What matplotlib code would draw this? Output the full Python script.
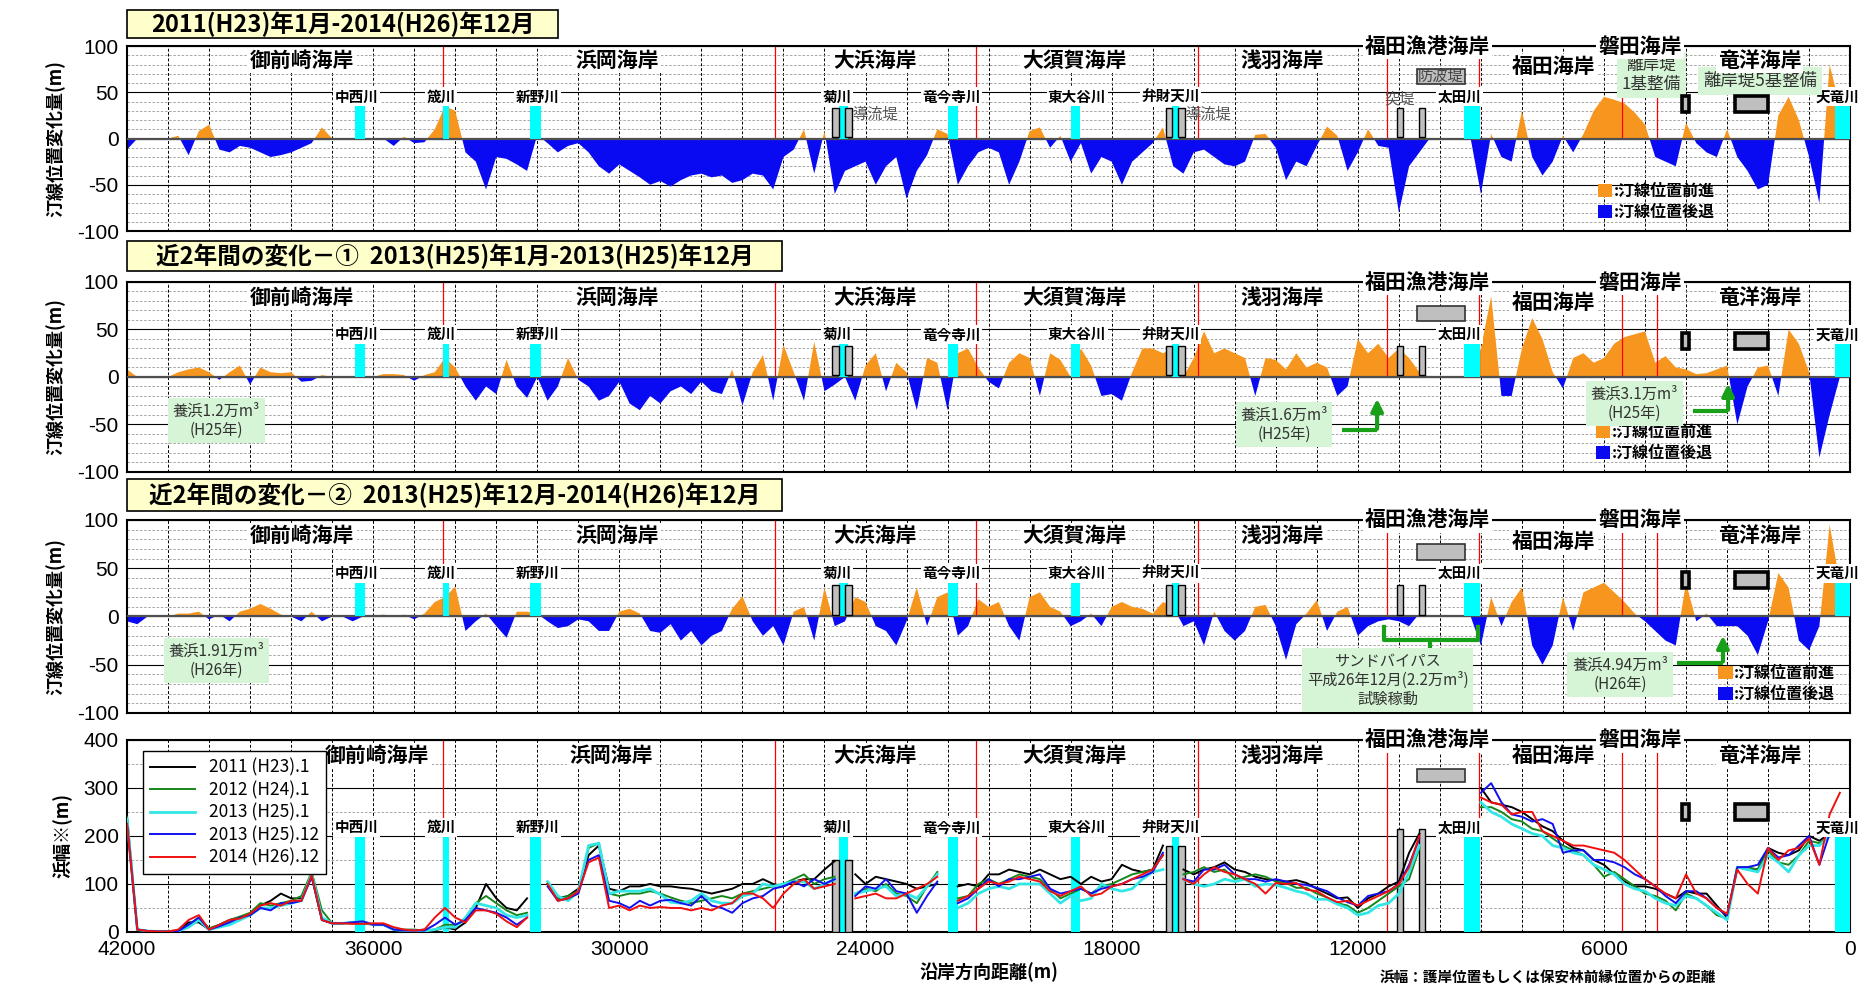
import numpy as np
import matplotlib
matplotlib.use("Agg")
import matplotlib.pyplot as plt
from matplotlib.patches import Rectangle, Patch
from matplotlib.ticker import MultipleLocator

plt.rcParams['font.family'] = ['Noto Sans CJK JP', 'DejaVu Sans']
plt.rcParams['axes.unicode_minus'] = False

nan = np.nan

# ── Data ─────────────────────────────────────────────────────────────────────
# alongshore distance (m), every 250 m from 42000 down to 0
DIST = np.arange(42000, -1, -250)

# shoreline change (m), 2011.1 -> 2014.12
CHG_ALL = [-12,
           0, 0, 0, 0, 3, -18, 8, 15,                  # 41750-40000
           -12, -15, -8, -10, -15, -20, -18, -15,      # 39750-38000
           -10, -5, 12, 0, 0, 0, 0, 0,                 # 37750-36000
           0, -8, 2, -5, -4, 10, 35, 30,               # 35750-34000
           -15, -25, -55, -20, -22, -28, -35, 4,       # 33750-32000
           -5, -15, -8, -5, -15, -30, -38, -28,        # 31750-30000
           -35, -42, -50, -46, -52, -45, -40, -38,     # 29750-28000
           -42, -40, -48, -45, -38, -40, -55, -20,     # 27750-26000
           -12, 10, -38, 8, -60, -35, -30, -25,        # 25750-24000
           -50, -30, -20, -65, -35, -18, 10, 5,        # 23750-22000
           -50, -30, -15, -10, -15, -50, -25, 8,       # 21750-20000
           12, -10, 3, -25, -5, -38, -20, -25,         # 19750-18000
           -50, -25, -15, -5, 12, -30, -38, -15,       # 17750-16000
           -12, -20, -28, -30, -25, 4, 5, -10,         # 15750-14000
           -45, -25, -30, -8, 13, 3, -35, -15,         # 13750-12000
           10, -8, -10, -80, -30, -15, 0, 0,           # 11750-10000
           0, 0, 0, -60, 5, -20, -25, 30,              # 9750-8000
           -20, -40, -25, 3, -15, 5, 30, 45,           # 7750-6000
           42, 38, 28, 15, -20, -25, -30, 17,          # 5750-4000
           -5, -15, -20, 10, -20, -35, -55, -50,       # 3750-2000
           25, 45, 20, -20, -70, 80, 35, 0]            # 1750-0

# shoreline change (m), 2013.1 -> 2013.12
CHG_H25 = [8,
           0, 0, 0, 0, 5, 8, 10, 5,
           -3, 5, 12, -8, 10, 5, 4, 5,
           -5, -4, 2, 0, 0, 0, 0, 0,
           3, 3, 2, -4, 2, 5, 20, 10,
           -10, -25, -10, -18, 18, -10, -22, 0,
           -25, -10, 20, -3, -10, -25, -20, -5,
           -28, -35, -20, -28, -15, -10, -18, -5,
           -15, -18, 8, -30, 5, 23, -25, 34,
           5, -25, 37, -15, -8, 0, -25, 12,
           25, -15, 15, 5, -35, 20, 15, -35,
           25, 30, 10, -5, -12, 15, 25, 20,
           -20, 25, 18, 0, 30, 12, -20, -18,
           -25, 5, 30, 30, 25, 30, 0, 20,
           48, 25, 30, 25, 20, -20, 20, 18,
           8, 25, 10, 15, 10, -20, -10, 40,
           25, 35, 20, 30, 20, 5, 0, 0,
           0, 0, 0, 30, 85, -20, -20, 30,
           62, 40, 5, -12, 20, 25, 15, 20,
           35, 42, 45, 48, 15, 22, 10, 8,
           3, 4, 8, 12, -50, -10, 10, 12,
           -20, 50, 35, 5, -85, -40, 0, 0]

# shoreline change (m), 2013.12 -> 2014.12
CHG_H26 = [-5,
           -8, 0, 0, 0, 3, 3, 5, -3,
           2, -5, 5, 8, 13, 8, 2, 0,
           -5, 5, -5, 0, 0, -5, 0, 0,
           2, 0, 2, -3, 3, 15, 20, 31,
           -15, -5, 3, -10, -22, 5, 5, 3,
           -5, -12, -10, -3, -5, -15, -15, 5,
           8, 3, -15, -17, -8, -25, -15, -30,
           -20, -15, 8, 21, -5, -20, -10, -30,
           5, 10, -25, 30, -10, -5, 20, 15,
           -10, -15, -30, -5, 30, -10, 20, 25,
           -20, -10, 18, 10, 15, -10, -25, 20,
           25, 10, 5, -10, -5, 3, -10, 10,
           15, 10, 8, 3, 15, 10, -10, -5,
           -30, 5, -15, -25, -15, 10, 12, -10,
           -45, -8, 3, 17, -15, 5, 10, -20,
           -10, -5, -3, -5, -10, 3, 0, 0,
           0, 0, 0, -30, 20, -10, 15, 30,
           -30, -50, -30, 20, -15, 25, 30, 35,
           25, 15, 3, -5, -15, -25, -30, 35,
           -5, 3, -10, -10, -10, -20, -40, -5,
           45, 30, -25, -35, -10, 95, 35, 0]

# beach width (m)
W_2011_1 = [235,
            5, 2, 1, 1, 3, 20, 20, 5,
            15, 25, 30, 35, 55, 65, 80, 70,
            70, 115, 25, 18, 18, 20, 22, 15,
            15, 5, 3, 3, 5, 3, 10, 5,
            20, 50, 100, 70, 50, 45, 70, nan,
            100, 70, 75, 90, 160, 180, 90, 85,
            95, 95, 100, 95, 95, 92, 90, 85,
            80, 85, 90, 100, 100, 110, 100, 95,
            105, 110, 110, 130, 148, nan, 120, 100,
            115, 110, 105, 100, 90, 95, 100, nan,
            95, 100, 95, 120, 120, 130, 125, 120,
            130, 120, 110, 115, 100, 115, 105, 110,
            140, 130, 125, 130, 180, nan, 130, 120,
            130, 135, 145, 130, 125, 115, 110, 108,
            105, 108, 102, 90, 80, 70, 72, 50,
            70, 80, 95, 105, 165, 205, nan, nan,
            nan, nan, nan, 300, 270, 265, 260, 250,
            235, 220, 210, 190, 175, 170, 150, 140,
            120, 105, 95, 95, 90, 80, 70, 85,
            80, 80, 55, 30, 135, 130, 130, 175,
            165, 160, 170, 200, 190, 205, nan, nan]

W_2012_1 = [240,
            5, 2, 1, 1, 2, 15, 30, 8,
            15, 25, 32, 40, 60, 55, 60, 65,
            75, 125, 45, 18, 18, 18, 18, 15,
            15, 8, 5, 5, 3, 5, 15, 15,
            25, 60, 75, 60, 45, 35, 40, nan,
            100, 68, 75, 85, 175, 185, 80, 75,
            80, 80, 85, 80, 72, 65, 60, 65,
            70, 75, 70, 80, 85, 90, 95, 100,
            110, 120, 100, 110, 115, nan, 80, 90,
            85, 100, 80, 75, 60, 95, 125, nan,
            70, 75, 100, 110, 100, 110, 120, 115,
            110, 90, 70, 80, 90, 80, 95, 100,
            110, 120, 125, 130, 160, nan, 120, 125,
            135, 125, 130, 110, 115, 120, 115, 105,
            102, 92, 92, 80, 72, 60, 55, 40,
            50, 65, 80, 95, 110, 175, nan, nan,
            nan, nan, nan, 260, 260, 250, 235, 230,
            215, 210, 195, 180, 170, 160, 140, 115,
            125, 110, 95, 80, 75, 65, 45, 80,
            70, 55, 35, 28, 135, 135, 130, 170,
            145, 140, 160, 190, 185, 200, nan, nan]

W_2013_1 = [235,
            5, 2, 1, 1, 2, 10, 25, 5,
            10, 15, 25, 35, 50, 50, 55, 60,
            65, 120, 30, 18, 18, 20, 22, 15,
            15, 5, 3, 3, 2, 5, 10, 10,
            30, 60, 55, 50, 35, 30, 35, nan,
            105, 75, 65, 85, 180, 185, 80, 85,
            85, 85, 90, 78, 62, 60, 65, 80,
            65, 60, 60, 75, 80, 100, 95, 100,
            105, 105, 90, 100, 110, nan, 80, 85,
            90, 95, 75, 80, 70, 95, 120, nan,
            50, 60, 80, 90, 95, 90, 100, 100,
            100, 80, 60, 75, 65, 70, 100, 90,
            85, 90, 110, 125, 130, nan, 110, 100,
            95, 100, 110, 105, 110, 95, 100, 98,
            92, 85, 80, 68, 68, 58, 50, 35,
            40, 55, 60, 80, 125, 180, nan, nan,
            nan, nan, nan, 270, 250, 240, 225, 215,
            205, 200, 180, 175, 165, 160, 140, 130,
            120, 100, 90, 85, 70, 60, 55, 75,
            70, 55, 40, 25, 135, 130, 125, 160,
            145, 125, 160, 180, 180, 200, nan, nan]

W_2013_12 = [225,
             5, 2, 1, 1, 2, 15, 30, 5,
             12, 20, 30, 35, 50, 45, 60, 60,
             65, 115, 25, 18, 18, 20, 22, 15,
             15, 5, 3, 3, 3, 15, 30, 15,
             25, 50, 45, 40, 30, 15, 30, nan,
             95, 65, 70, 80, 150, 160, 65, 60,
             50, 65, 55, 65, 67, 60, 55, 75,
             55, 50, 40, 60, 70, 75, 90, 95,
             105, 95, 110, 100, 110, nan, 75, 95,
             90, 110, 85, 80, 40, 75, 105, nan,
             60, 70, 90, 110, 95, 110, 110, 115,
             120, 90, 80, 85, 90, 80, 90, 95,
             100, 110, 115, 125, 165, nan, 110, 105,
             130, 130, 140, 120, 110, 110, 105, 110,
             105, 100, 98, 92, 85, 72, 62, 55,
             75, 80, 85, 100, 140, 195, nan, nan,
             nan, nan, nan, 290, 310, 270, 245, 240,
             230, 235, 225, 165, 170, 170, 150, 150,
             145, 135, 120, 110, 95, 75, 60, 85,
             85, 70, 50, 35, 135, 135, 140, 175,
             155, 160, 180, 200, 140, 205, nan, nan]

W_2014_12 = [225,
             5, 2, 1, 1, 5, 25, 35, 5,
             15, 25, 28, 38, 55, 60, 55, 65,
             65, 118, 25, 18, 18, 17, 17, 18,
             18, 10, 5, 3, 5, 30, 50, 30,
             20, 45, 45, 38, 22, 10, 30, nan,
             100, 65, 70, 85, 145, 155, 50, 55,
             45, 55, 50, 52, 50, 50, 45, 50,
             45, 55, 60, 80, 80, 70, 50, 80,
             100, 110, 90, 95, 100, nan, 70, 75,
             80, 70, 70, 80, 90, 100, 115, nan,
             65, 75, 90, 105, 100, 105, 115, 110,
             105, 85, 75, 85, 95, 75, 80, 95,
             100, 110, 120, 130, 160, nan, 110, 100,
             120, 135, 125, 120, 110, 100, 80, 102,
             100, 102, 88, 85, 72, 62, 65, 55,
             65, 75, 85, 100, 135, 200, nan, nan,
             nan, nan, nan, 280, 270, 265, 245, 250,
             250, 210, 200, 190, 180, 180, 175, 170,
             165, 150, 130, 110, 95, 80, 70, 120,
             80, 70, 50, 38, 130, 100, 80, 175,
             150, 170, 175, 195, 140, 245, 290, nan]

WIDTH_LABELS = ['2011 (H23).1', '2012 (H24).1', '2013 (H25).1',
                '2013 (H25).12', '2014 (H26).12']

# coast sections, rivers and structures (distance in m)
COAST_NAMES = ['御前崎海岸', '浜岡海岸', '大浜海岸', '大須賀海岸', '浅羽海岸', '福田海岸', '竜洋海岸']
COAST_X = [37730, 30050, 23780, 18900, 13850, 7240, 2210]
COAST_X_WIDTH = [35900, 30200, 23780, 18900, 13850, 7240, 2210]
TOP_COASTS = ['福田漁港海岸', '磐田海岸']
TOP_COAST_X = [10300, 5120]
BOUNDS = [34300, 26200, 21300, 15900, 11300, 9050, 5550, 4700, 0]

RIVERS = ['中西川', '筬川', '新野川', '菊川', '竜今寺川', '東大谷川', '弁財天川', '太田川', '天竜川']
RIVER_X = [36320, 34230, 32045, 24540, 21870, 18890, 16440, 9220, 190]
RIVER_W = [240, 140, 250, 220, 260, 220, 180, 400, 380]
RIVER_LABEL_X = [36400, 34350, 32000, 24700, 21900, 18840, 16560, 9520, 300]

JETTY_X = [24735, 24420, 16595, 16300, 10980, 10440]   # 導流堤 / 突堤
JETTY_W = [160, 160, 150, 160, 140, 140]
BREAKWATER_X = 9980      # 防波堤
BREAKWATER_W = 1180
DETACHED_X = [4010, 2405]  # 離岸堤
DETACHED_W = [165, 810]

ORANGE = '#F7961E'
BLUE = '#0A0AF2'
CYAN = '#00FFFF'
GRAY = '#BFBFBF'
BOX_GREEN = '#D6F5D6'
ARROW_GREEN = '#18A018'
LINE_COLORS = ['black', '#15871A', '#33E6E6', '#1010F0', '#F01010']


# ── Helpers ──────────────────────────────────────────────────────────────────

def setup_axes(ax, ylim, major, minor):
    ax.set_xlim(42000, 0)
    ax.set_ylim(*ylim)
    ax.set_axisbelow(True)
    ax.xaxis.set_major_locator(MultipleLocator(6000))
    ax.xaxis.set_minor_locator(MultipleLocator(1000))
    ax.yaxis.set_major_locator(MultipleLocator(major))
    ax.yaxis.set_minor_locator(MultipleLocator(minor))
    ax.grid(which='minor', axis='y', color='#9a9a9a', ls=(0, (3, 2)), lw=0.6)
    ax.grid(which='major', axis='y', color='black', lw=0.8)
    ax.grid(which='both', axis='x', color='black', ls=(0, (3, 2)), lw=0.7)
    ax.tick_params(which='both', length=0, labelsize=15, pad=6)
    for lbl in ax.get_yticklabels():
        lbl.set_family('Liberation Sans')
    for s in ax.spines.values():
        s.set_linewidth(1.5)


def label_coasts(ax, xs, y_main, y_top, y_fukuda):
    for name, x in zip(COAST_NAMES, xs):
        y = y_fukuda if name == '福田海岸' else y_main
        ax.text(x, y, name, ha='center', va='center', fontsize=15, weight='bold',
                bbox=dict(boxstyle='square,pad=0.1', fc='white', ec='none'), zorder=7)
    for name, x in zip(TOP_COASTS, TOP_COAST_X):
        ax.text(x, y_top, name, ha='center', va='center', fontsize=15, weight='bold',
                bbox=dict(boxstyle='square,pad=0.1', fc='white', ec='none'),
                zorder=7, clip_on=False)


def draw_structures(ax, river_h, jetty_bot, jetty_tops, bw_y, det_y, river_y):
    ax.bar(RIVER_X, river_h, width=RIVER_W, color=CYAN, lw=0, zorder=3)
    ax.bar(JETTY_X, [t - jetty_bot for t in jetty_tops], bottom=jetty_bot, width=JETTY_W,
           fc=GRAY, ec='black', lw=1.0, zorder=3.5)
    ax.bar(BREAKWATER_X, bw_y[1] - bw_y[0], bottom=bw_y[0], width=BREAKWATER_W,
           fc=GRAY, ec='#333333', lw=1.2, zorder=3.5)
    ax.bar(DETACHED_X, det_y[1] - det_y[0], bottom=det_y[0], width=DETACHED_W,
           fc=GRAY, ec='black', lw=2.6, zorder=6.5)
    for name, x in zip(RIVERS, RIVER_LABEL_X):
        ax.text(x, river_y, name, ha='center', va='center', fontsize=10.5, weight='bold',
                bbox=dict(boxstyle='square,pad=0.1', fc='white', ec='none'),
                zorder=6, clip_on=False)


def change_panel(ax, values, legend_x):
    v = np.array(values, dtype=float)
    setup_axes(ax, (-100, 100), 50, 10)
    ax.fill_between(DIST, 0, v, where=v >= 0, interpolate=True, color=ORANGE, lw=0, zorder=2)
    ax.fill_between(DIST, 0, v, where=v <= 0, interpolate=True, color=BLUE, lw=0, zorder=2)
    ax.axhline(0, color='#505050', lw=1.6, zorder=2.6)
    ax.vlines(BOUNDS, 0, 100, colors='red', lw=0.9, zorder=2.2)
    draw_structures(ax, 35, 2, [33] * 6, (59, 75), (29, 46), 45)
    label_coasts(ax, COAST_X, 84, 100, 78)
    ax.set_yticks([-100, -50, 0, 50, 100])
    ax.tick_params(labelbottom=False)
    ax.set_ylabel('汀線位置変化量(m)', fontsize=13, weight='bold', labelpad=8)
    ax.legend([Patch(fc=ORANGE), Patch(fc=BLUE)], [':汀線位置前進', ':汀線位置後退'],
              loc='lower left', bbox_to_anchor=(legend_x, 0.0), frameon=False,
              prop=dict(weight='bold', size=11.5), handlelength=0.9, handleheight=0.9,
              handletextpad=0.1, labelspacing=0.3, borderaxespad=0.3)


def green_note(ax, x, y, text, fs=11):
    ax.text(x, y, text, ha='center', va='center', fontsize=fs, color='#333333',
            linespacing=1.15,
            bbox=dict(boxstyle='square,pad=0.3', fc=BOX_GREEN, ec='none'), zorder=6)


def green_arrow(ax, x_start, y, x_end, y_tip):
    ax.plot([x_start, x_end], [y, y], color=ARROW_GREEN, lw=3, zorder=5.5,
            solid_capstyle='butt')
    ax.annotate('', xy=(x_end, y_tip), xytext=(x_end, y - 1.5),
                arrowprops=dict(arrowstyle='-|>,head_width=0.35,head_length=0.7',
                                color=ARROW_GREEN, lw=3), zorder=5.5)


# ── Figure ───────────────────────────────────────────────────────────────────

fig = plt.figure(figsize=(18.63, 9.94), dpi=100)
L, W = 0.0682, 0.9249
ax1 = fig.add_axes([L, 0.7676, W, 0.1861])
ax2 = fig.add_axes([L, 0.5252, W, 0.1911])
ax3 = fig.add_axes([L, 0.2827, W, 0.1942])
ax4 = fig.add_axes([L, 0.0624, W, 0.1932])

change_panel(ax1, CHG_ALL, 0.847)
change_panel(ax2, CHG_H25, 0.846)
change_panel(ax3, CHG_H26, 0.917)

# panel 1 notes
for x in (23760, 15640):
    ax1.text(x, 26, '導流堤', ha='center', va='center', fontsize=11, color='#555555', zorder=6)
ax1.text(10980, 43, '突堤', ha='center', va='center', fontsize=11, color='#555555', zorder=6)
ax1.text(BREAKWATER_X, 67, '防波堤', ha='center', va='center', fontsize=11,
         color='#444444', zorder=6)
green_note(ax1, 4840, 69, '離岸堤\n1基整備', fs=12)
green_note(ax1, 2190, 62, '離岸堤5基整備', fs=12.5)

# panel 2 notes
green_note(ax2, 39820, -46, '養浜1.2万m³\n(H25年)')
green_note(ax2, 13800, -50, '養浜1.6万m³\n(H25年)')
green_arrow(ax2, 12380, -56, 11530, -20)
green_note(ax2, 5255, -28, '養浜3.1万m³\n(H25年)')
green_arrow(ax2, 3830, -36, 2974, -4)

# panel 3 notes
green_note(ax3, 39820, -46, '養浜1.91万m³\n(H26年)')
green_note(ax3, 11275, -66, 'サンドバイパス\n平成26年12月(2.2万m³)\n試験稼動')
ax3.plot([11360, 11360, 9080, 9080], [-11, -24, -24, -11], color=ARROW_GREEN, lw=3, zorder=5.5)
ax3.plot([10240, 10240], [-24, -34], color=ARROW_GREEN, lw=3, zorder=5.5)
green_note(ax3, 5610, -60, '養浜4.94万m³\n(H26年)')
green_arrow(ax3, 4220, -48, 3100, -17)

# panel 4: beach width
setup_axes(ax4, (0, 400), 100, 50)
ax4.vlines(BOUNDS, 0, 400, colors='red', lw=0.9, zorder=2.2)
series = [W_2011_1, W_2012_1, W_2013_1, W_2013_12, W_2014_12]
for vals, col, lab in zip(series, LINE_COLORS, WIDTH_LABELS):
    lw = 2.0 if lab == '2013 (H25).1' else 1.4
    ax4.plot(DIST, vals, color=col, lw=lw, label=lab, zorder=4)
draw_structures(ax4, 200, 0, [150, 150, 180, 180, 215, 215], (313, 340), (233, 266), 218)
label_coasts(ax4, COAST_X_WIDTH, 368, 400, 368)
ax4.set_xticks(range(42000, -1, -6000))
ax4.set_xticklabels([str(v) for v in range(42000, -1, -6000)], family='Liberation Sans')
ax4.set_ylabel('浜幅※(m)', fontsize=13, weight='bold', labelpad=8)
ax4.set_xlabel('沿岸方向距離(m)', fontsize=13, weight='bold', labelpad=2)
leg = ax4.legend(loc='upper left', bbox_to_anchor=(0.004, 0.985), fontsize=12.5,
                 handlelength=2.6, labelspacing=0.25, borderpad=0.4, fancybox=False,
                 edgecolor='black', framealpha=1)
leg.get_frame().set_linewidth(1.0)
leg.set_zorder(8)

# title boxes
titles = [('2011(H23)年1月-2014(H26)年12月', 0.9618, 0.2313, 0.0282),
          ('近2年間の変化－①  2013(H25)年1月-2013(H25)年12月', 0.7274, 0.3516, 0.0302),
          ('近2年間の変化－②  2013(H25)年12月-2014(H26)年12月', 0.4859, 0.3516, 0.0322)]
for text, y0, w, h in titles:
    fig.patches.append(Rectangle((L, y0), w, h, transform=fig.transFigure,
                                 fc='#FFFFCC', ec='black', lw=1.2))
    fig.text(L + w / 2, y0 + h / 2, text, ha='center', va='center',
             fontsize=17, weight='bold')

fig.text(0.7405, 0.009, '浜幅：護岸位置もしくは保安林前縁位置からの距離',
         ha='left', va='bottom', fontsize=10.5, weight='bold')

fig.savefig('out.png', dpi=100)
